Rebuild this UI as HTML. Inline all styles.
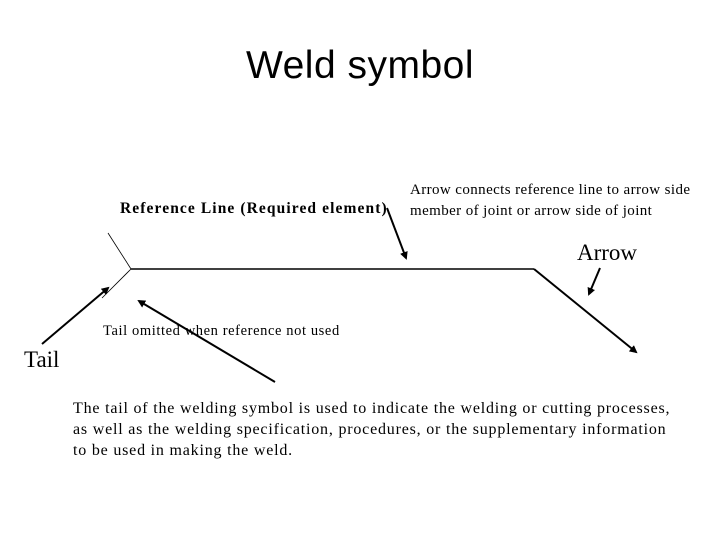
<!DOCTYPE html>
<html><head><style>
body{margin:0;width:720px;height:540px;background:#fff;position:relative;overflow:hidden;font-family:"Liberation Serif",serif;color:#000}
.t{position:absolute;white-space:nowrap;line-height:1}
</style></head><body>
<div class="t" style="left:0;width:720px;text-align:center;top:46px;font-family:'Liberation Sans',sans-serif;font-size:39px;letter-spacing:0.5px">Weld symbol</div>
<div class="t" style="left:120px;top:201px;font-size:15.5px;font-weight:bold;letter-spacing:1.1px">Reference Line (Required element)</div>
<div class="t" style="left:410px;top:180px;font-size:15px;line-height:21px;letter-spacing:0.4px">Arrow connects reference line to arrow side<br>member of joint or arrow side of joint</div>
<div class="t" style="left:577px;top:241px;font-size:23px">Arrow</div>
<div class="t" style="left:103px;top:324px;font-size:14.5px;letter-spacing:0.6px">Tail omitted when reference not used</div>
<div class="t" style="left:24px;top:348px;font-size:23px">Tail</div>
<div class="t" style="left:73px;top:398px;font-size:16px;line-height:21px;letter-spacing:0.8px">The tail of the welding symbol is used to indicate the welding or cutting processes,<br>as well as the welding specification, procedures, or the supplementary information<br>to be used in making the weld.</div>
<svg width="720" height="540" style="position:absolute;left:0;top:0">
<defs><marker id="a" markerWidth="8" markerHeight="8" refX="6" refY="4" orient="auto" markerUnits="userSpaceOnUse"><path d="M0,0 L8,4 L0,8 Z" fill="#000"/></marker></defs>
<g stroke="#000" fill="none">
<line x1="131" y1="269" x2="534" y2="269" stroke-width="1.5"/>
<line x1="131" y1="269" x2="108" y2="233" stroke-width="0.8"/>
<line x1="131" y1="269" x2="102" y2="298" stroke-width="0.8"/>
<line x1="534" y1="269" x2="636" y2="352" stroke-width="2" marker-end="url(#a)"/>
<line x1="600" y1="268" x2="589" y2="294" stroke-width="2" marker-end="url(#a)"/>
<line x1="387" y1="208" x2="406" y2="258" stroke-width="2" marker-end="url(#a)"/>
<line x1="42" y1="344" x2="108" y2="288" stroke-width="2" marker-end="url(#a)"/>
<line x1="275" y1="382" x2="139" y2="301" stroke-width="2" marker-end="url(#a)"/>
</g></svg>
</body></html>
